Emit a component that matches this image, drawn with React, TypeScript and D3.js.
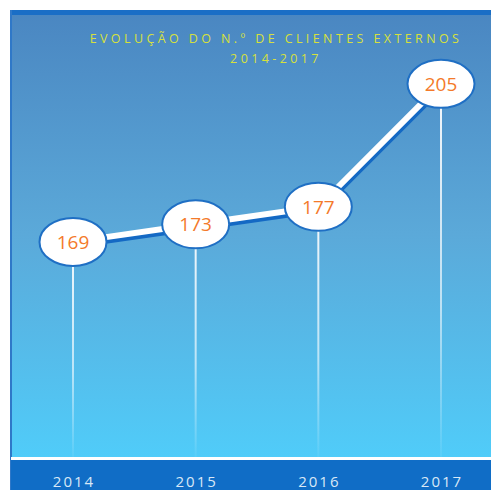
import React from 'react';
import * as d3 from 'd3';

const years = ['2014', '2015', '2016', '2017'];
const clients = [169, 173, 177, 205];
const titleLines = ['EVOLUÇÃO DO N.º DE CLIENTES EXTERNOS', '2014-2017'];

const W = 491;
const H = 490;
const frameLeft = 11;
const frameTop = 10;
const plotBottom = 457;

const App = () => {
  const x = d3
    .scalePoint<string>()
    .domain(years)
    .range([73, 441]);

  const y = d3.scaleLinear().domain([120, 220]).range([plotBottom, 18]);

  const pts = years.map((yr, i) => ({ yr, v: clients[i], cx: x(yr) as number, cy: y(clients[i]) }));

  const path = d3
    .line<{ cx: number; cy: number }>()
    .x((d) => d.cx)
    .y((d) => d.cy)(pts) as string;

  const rx = 33.5;
  const ry = 24;

  return (
    <svg
      width={W}
      height={H}
      style={{ position: 'absolute', left: 0, top: 0 }}
      fontFamily="'Open Sans', 'Liberation Sans', sans-serif"
    >
      <defs>
        <linearGradient id="bg" x1="0" y1="0" x2="0" y2="1">
          <stop offset="0" stopColor="#4a86c1" />
          <stop offset="0.5" stopColor="#5ba9d9" />
          <stop offset="1" stopColor="#50ccf9" />
        </linearGradient>
        <linearGradient id="drop" x1="0" y1="0" x2="0" y2="1">
          <stop offset="0" stopColor="#ffffff" stopOpacity={0.95} />
          <stop offset="0.6" stopColor="#ffffff" stopOpacity={0.6} />
          <stop offset="1" stopColor="#ffffff" stopOpacity={0.05} />
        </linearGradient>
      </defs>

      <rect x={0} y={0} width={W} height={H} fill="#ffffff" />
      {/* plot area */}
      <rect x={frameLeft} y={frameTop} width={W - frameLeft} height={plotBottom - frameTop} fill="url(#bg)" />
      <rect x={frameLeft} y={frameTop} width={W - frameLeft} height={5} fill="#1a6ec6" />
      <rect x={frameLeft - 1} y={frameTop} width={2} height={H - frameTop} fill="#2f78c8" />
      {/* bottom band */}
      <rect x={frameLeft} y={plotBottom} width={W - frameLeft} height={3} fill="#ffffff" />
      <rect x={frameLeft} y={plotBottom + 3} width={W - frameLeft} height={H - plotBottom - 3} fill="#106dc6" />

      {/* title */}
      <text x={276} y={43} textAnchor="middle" fill="#d6e03c" fontSize={12.5} letterSpacing={3.4}>
        {titleLines[0]}
      </text>
      <text x={276} y={63} textAnchor="middle" fill="#d6e03c" fontSize={12.5} letterSpacing={3.4}>
        {titleLines[1]}
      </text>

      {/* drop lines */}
      {pts.map((p) => (
        <rect key={'d' + p.yr} x={p.cx - 1} y={p.cy} width={2} height={plotBottom - p.cy} fill="url(#drop)" />
      ))}

      {/* line with shadow */}
      <g transform="translate(1,3.5)">
        <path d={path} fill="none" stroke="#1469c4" strokeWidth={6} />
      </g>
      <path d={path} fill="none" stroke="#ffffff" strokeWidth={6} />

      {/* markers */}
      {pts.map((p) => (
        <g key={p.yr}>
          <ellipse cx={p.cx} cy={p.cy} rx={rx} ry={ry} fill="#ffffff" stroke="#1f6fc4" strokeWidth={2} />
          <text x={p.cx} y={p.cy + 7} textAnchor="middle" fill="#f47a2a" fontSize={19}>
            {p.v}
          </text>
        </g>
      ))}

      {/* x labels */}
      {years.map((yr) => (
        <text
          key={'x' + yr}
          x={(x(yr) as number) + 1}
          y={487}
          textAnchor="middle"
          fill="#d8e8f7"
          fontSize={15}
          letterSpacing={2}
        >
          {yr}
        </text>
      ))}
    </svg>
  );
};

export default App;
